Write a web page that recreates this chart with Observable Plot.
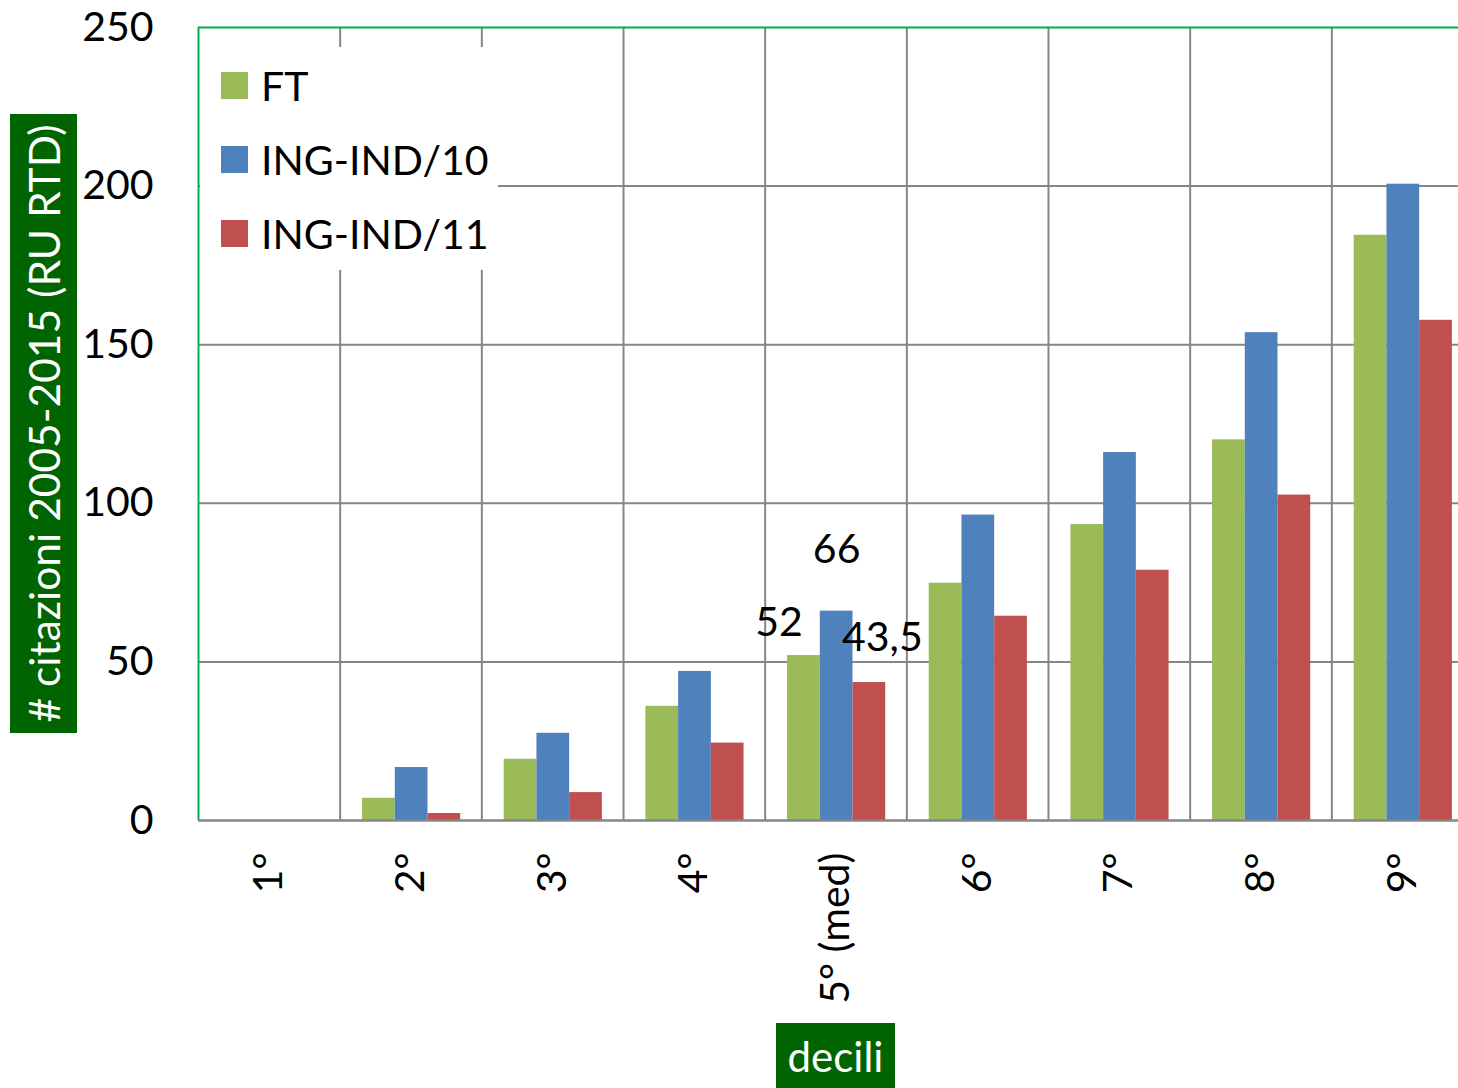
<!DOCTYPE html>
<html>
<head>
<meta charset="utf-8">
<script src="https://cdn.jsdelivr.net/npm/d3@7"></script>
<script src="https://cdn.jsdelivr.net/npm/@observablehq/plot@0.6"></script>
<style>
  html, body { margin: 0; padding: 0; background: #fff; }
  #wrap { position: relative; width: 1458px; height: 1088px; overflow: hidden; font-family: Lato, sans-serif; }
  #wrap svg { position: absolute; left: 0; top: 0; }
  .legend { position: absolute; left: 200px; top: 47px; width: 298px; height: 223px; background: #fff; }
  .legend .item { position: absolute; left: 21px; display: flex; align-items: center; font-size: 41px; color: #000; height: 27px; }
  .legend .sw { width: 27px; height: 27px; margin-right: 13px; flex: none; }
  .ylab { position: absolute; left: 10px; top: 114px; width: 67px; height: 619px; background: #006400; color: #fff;
          display: flex; align-items: center; justify-content: center; }
  .ylab span { transform: rotate(-90deg); white-space: nowrap; font-size: 42.5px; display: block; }
  .xlab { position: absolute; left: 776px; top: 1023px; width: 119px; height: 65px; background: #006400; color: #fff;
          font-size: 42px; display: flex; align-items: center; justify-content: center; }
</style>
</head>
<body>
<div id="wrap"></div>
<script>
// ---- data ----
const deciles = ["1°", "2°", "3°", "4°", "5° (med)", "6°", "7°", "8°", "9°"];
const seriesNames = ["FT", "ING-IND/10", "ING-IND/11"];
const ftValues = [0, 7, 19.3, 36, 52, 74.8, 93.3, 120, 184.5];
const ind10Values = [0, 16.7, 27.5, 47, 66, 96.3, 116, 153.8, 200.6];
const ind11Values = [0, 2.2, 8.8, 24.4, 43.5, 64.4, 78.9, 102.6, 157.7];
const yTicks = [0, 50, 100, 150, 200, 250];
const seriesColors = ["#9BBB59", "#4F81BD", "#C0504D"];
// labelled bars (decile index, series index)
const labelled = [[4, 0], [4, 1], [4, 2]];

// ---- build table ----
const allValues = [ftValues, ind10Values, ind11Values];
const rows = [];
deciles.forEach((d, i) => seriesNames.forEach((s, k) => rows.push({decile: d, i, series: s, k, value: allValues[k][i]})));

// layout of bars inside a decile band (fractions of band)
const groupPad = 0.158, barW = 0.231;
const fmt = v => String(v).replace(".", ",");
const labelRows = labelled.map(([i, k]) => rows.find(r => r.i === i && r.k === k));
const labelOffsets = [{dx: -25, dy: -33}, {dx: 0, dy: -61}, {dx: 13, dy: -45}];

const gridColor = "#868686";
const borderColor = "#00B050";

const chart = Plot.plot({
  width: 1458,
  height: 1088,
  marginLeft: 198,
  marginRight: 0,
  marginTop: 27,
  marginBottom: 268,
  style: {fontFamily: "Lato, sans-serif", fontSize: "41px", color: "#000", background: "transparent", overflow: "visible"},
  x: {domain: [0, deciles.length], range: [198, 1473], axis: null},
  y: {domain: [0, 250], ticks: yTicks, tickSize: 0, tickPadding: 45, label: null},
  color: {domain: seriesNames, range: seriesColors},
  marks: [
    Plot.ruleY(yTicks.filter(t => t > 0 && t < 250), {stroke: gridColor, strokeWidth: 2}),
    Plot.ruleX(d3.range(1, deciles.length), {stroke: gridColor, strokeWidth: 2}),
    Plot.rectY(rows, {
      x1: d => d.i + groupPad + d.k * barW,
      x2: d => d.i + groupPad + (d.k + 1) * barW,
      y1: 0, y2: "value", fill: "series"
    }),
    Plot.ruleY([0], {stroke: gridColor, strokeWidth: 2.5}),
    Plot.ruleY([250], {stroke: borderColor, strokeWidth: 2}),
    Plot.ruleX([0], {stroke: borderColor, strokeWidth: 2}),
    ...labelRows.map((r, j) => Plot.text([r], {
      x: d => d.i + groupPad + (d.k + 0.5) * barW,
      y: "value",
      text: d => fmt(d.value),
      fill: "#000",
      dx: labelOffsets[j].dx, dy: labelOffsets[j].dy
    })),
    Plot.text(deciles, {
      x: (d, i) => i + 0.5, y: 0, text: d => d,
      rotate: -90, textAnchor: "end", dy: 32, fill: "#000"
    })
  ]
});

const wrap = document.getElementById("wrap");
wrap.appendChild(chart);

// legend
const legend = document.createElement("div");
legend.className = "legend";
seriesNames.forEach((s, k) => {
  const it = document.createElement("div");
  it.className = "item";
  it.style.top = (25 + k * 74) + "px";
  it.innerHTML = `<span class="sw" style="background:${seriesColors[k]}"></span><span>${s}</span>`;
  legend.appendChild(it);
});
wrap.appendChild(legend);

const ylab = document.createElement("div");
ylab.className = "ylab";
ylab.innerHTML = "<span># citazioni 2005-2015 (RU RTD)</span>";
wrap.appendChild(ylab);

const xlab = document.createElement("div");
xlab.className = "xlab";
xlab.textContent = "decili";
wrap.appendChild(xlab);
</script>
</body>
</html>
